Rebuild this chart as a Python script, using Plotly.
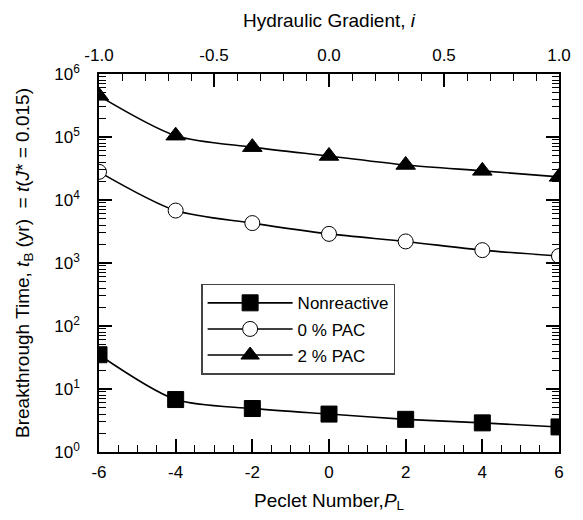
import plotly.graph_objects as go

# Peclet number (bottom axis) and the matching hydraulic gradient (top axis)
peclet = [-6, -4, -2, 0, 2, 4, 6]
gradient = [p / 6 for p in peclet]

# Breakthrough times t_B (yr)
nonreactive = [35, 6.8, 4.9, 4.0, 3.3, 2.9, 2.5]
pac_0 = [2.8e4, 6.8e3, 4.3e3, 2.9e3, 2.2e3, 1.6e3, 1.29e3]
pac_2 = [4.5e5, 1.05e5, 6.9e4, 5.0e4, 3.6e4, 2.9e4, 2.33e4]

# Tick labels
x_ticks = [-6, -4, -2, 0, 2, 4, 6]
x_ticktext = ["-6", "-4", "-2", "0", "2", "4", "6"]
x2_ticks = [-1.0, -0.5, 0.0, 0.5, 1.0]
x2_ticktext = ["-1.0", "-0.5", "0.0", "0.5", "1.0"]
y_ticks = [1, 10, 100, 1e3, 1e4, 1e5, 1e6]
y_ticktext = ["10<sup>%d</sup>" % k for k in range(7)]

FONT = "Liberation Sans, Arial, Helvetica, sans-serif"
BLACK = "#000000"
TITLE_FONT = dict(family=FONT, size=19, color=BLACK)

fig = go.Figure()

line = dict(color=BLACK, width=1.6, shape="spline", smoothing=0.8)

fig.add_trace(go.Scatter(
    x=peclet, y=nonreactive, name="Nonreactive", mode="lines+markers",
    line=line, legendgroup="a",
    marker=dict(symbol="square", size=16, color=BLACK, line=dict(color=BLACK, width=1)),
))
fig.add_trace(go.Scatter(
    x=peclet, y=pac_0, name="0 % PAC", mode="lines+markers",
    line=line, legendgroup="b",
    marker=dict(symbol="circle", size=15, color="white", line=dict(color=BLACK, width=1)),
))
fig.add_trace(go.Scatter(
    x=peclet, y=pac_2, name="2 % PAC", mode="lines+markers",
    line=line, legendgroup="c",
    marker=dict(symbol="triangle-up", size=17, color=BLACK, line=dict(color=BLACK, width=1)),
))
# invisible traces that carry the top (hydraulic gradient) and right axes
fig.add_trace(go.Scatter(
    x=gradient, y=pac_2, xaxis="x2", mode="markers",
    marker=dict(opacity=0), showlegend=False, hoverinfo="skip",
))
fig.add_trace(go.Scatter(
    x=peclet, y=pac_2, yaxis="y2", mode="markers",
    marker=dict(opacity=0), showlegend=False, hoverinfo="skip",
))

axis_common = dict(
    showline=True, linecolor=BLACK, linewidth=1.6,
    ticks="inside", tickcolor=BLACK, tickwidth=1.5, ticklen=13,
    showgrid=False, zeroline=False,
    tickfont=dict(family=FONT, size=17, color=BLACK),
)
minor_common = dict(ticks="inside", ticklen=7, tickwidth=1.3, tickcolor=BLACK, showgrid=False)

fig.update_layout(
    width=583, height=520,
    margin=dict(l=99, r=15, t=74, b=64),
    paper_bgcolor="white", plot_bgcolor="white",
    font=dict(family=FONT, size=17, color=BLACK),
    xaxis=dict(
        **axis_common,
        range=[-6, 6], tickmode="array", tickvals=x_ticks, ticktext=x_ticktext,
        minor=dict(**minor_common, dtick=0.5),
        ticklabelstandoff=4,
        title=dict(text="Peclet Number,<i>P</i><sub>L</sub>", font=TITLE_FONT, standoff=12),
    ),
    xaxis2=dict(
        **axis_common,
        overlaying="x", side="top", anchor="y",
        range=[-1, 1], tickmode="array", tickvals=x2_ticks, ticktext=x2_ticktext,
        minor=dict(**minor_common, dtick=0.1),
        ticklabelstandoff=4,
        title=dict(text="Hydraulic Gradient, <i>i</i>", font=TITLE_FONT, standoff=14),
    ),
    yaxis=dict(
        **axis_common,
        type="log", range=[0, 6],
        tickmode="array", tickvals=y_ticks, ticktext=y_ticktext,
        minor=dict(**minor_common, dtick="D1"),
        ticklabelstandoff=14,
        title=dict(
            text="Breakthrough Time, <i>t</i><sub>B</sub> (yr)&nbsp;&nbsp;= <i>t</i>(<i>J</i>* = 0.015)",
            font=TITLE_FONT, standoff=20,
        ),
    ),
    yaxis2=dict(
        **axis_common,
        overlaying="y", side="right", anchor="x",
        type="log", range=[0, 6],
        tickmode="array", tickvals=y_ticks, showticklabels=False,
        minor=dict(**minor_common, dtick="D1"),
    ),
    legend=dict(
        x=0.222, y=0.445, xanchor="left", yanchor="top",
        bgcolor="white", bordercolor="#444444", borderwidth=1.5,
        font=dict(family=FONT, size=17, color=BLACK),
        itemwidth=85, tracegroupgap=1,
    ),
    showlegend=True,
)

fig.write_html("out.html")
